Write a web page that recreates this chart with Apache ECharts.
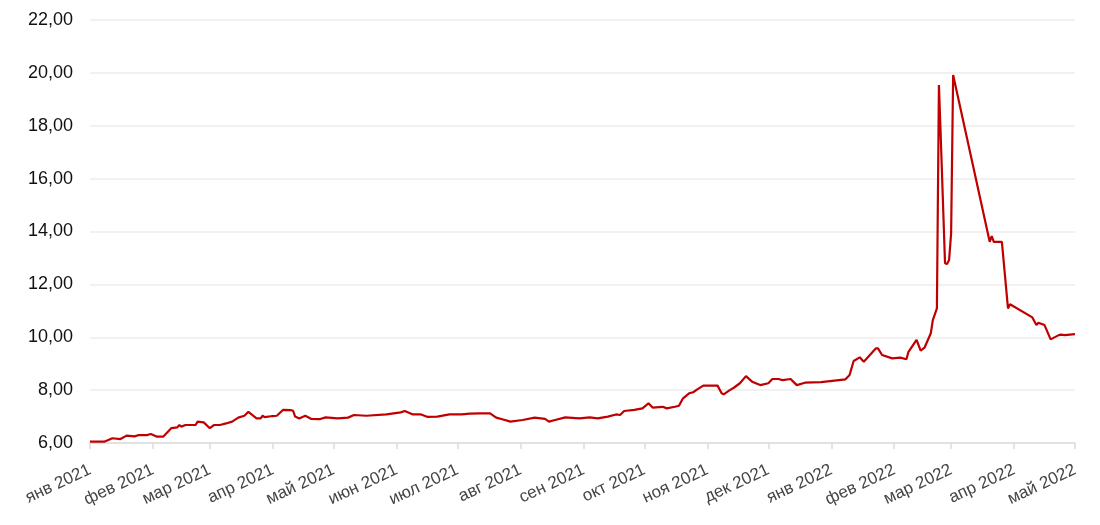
<!DOCTYPE html>
<html>
<head>
<meta charset="utf-8">
<script src="https://cdn.jsdelivr.net/npm/echarts@6/dist/echarts.min.js"></script>
<style>
html,body{margin:0;padding:0;background:#fff;}
#chart{width:1100px;height:525px;}
</style>
</head>
<body>
<div id="chart"></div>
<script>
// ---- data ----
const dates = [
 '2021-01-01','2021-01-08','2021-01-12','2021-01-16','2021-01-19','2021-01-23','2021-01-25','2021-01-29','2021-01-31',
 '2021-02-03','2021-02-06','2021-02-10','2021-02-13','2021-02-14','2021-02-15','2021-02-17','2021-02-22','2021-02-23','2021-02-26',
 '2021-03-01','2021-03-03','2021-03-06','2021-03-09','2021-03-12','2021-03-15','2021-03-18','2021-03-20','2021-03-24','2021-03-26','2021-03-27','2021-03-28',
 '2021-04-01','2021-04-03','2021-04-06','2021-04-10','2021-04-11','2021-04-12','2021-04-14','2021-04-17','2021-04-20','2021-04-24','2021-04-27',
 '2021-05-03','2021-05-08','2021-05-11','2021-05-17','2021-05-27',
 '2021-06-03','2021-06-05','2021-06-09','2021-06-13','2021-06-16','2021-06-21','2021-06-27',
 '2021-07-03','2021-07-07','2021-07-12','2021-07-17','2021-07-20','2021-07-23','2021-07-27',
 '2021-08-02','2021-08-08','2021-08-13','2021-08-15','2021-08-18','2021-08-23','2021-08-30',
 '2021-09-04','2021-09-08','2021-09-13','2021-09-17','2021-09-19','2021-09-21','2021-09-26','2021-09-30',
 '2021-10-03','2021-10-05','2021-10-10','2021-10-12','2021-10-16','2021-10-18','2021-10-20','2021-10-23','2021-10-25','2021-10-27','2021-10-30',
 '2021-11-06','2021-11-08','2021-11-09','2021-11-12','2021-11-14','2021-11-17','2021-11-20','2021-11-23','2021-11-27',
 '2021-12-01','2021-12-03','2021-12-06','2021-12-08','2021-12-12','2021-12-13','2021-12-15','2021-12-19','2021-12-27',
 '2022-01-08','2022-01-10','2022-01-12','2022-01-15','2022-01-17','2022-01-19','2022-01-23','2022-01-24','2022-01-26','2022-01-31',
 '2022-02-04','2022-02-07','2022-02-08','2022-02-12','2022-02-14','2022-02-16','2022-02-19','2022-02-20','2022-02-22','2022-02-23','2022-02-24','2022-02-26','2022-02-27','2022-02-28',
 '2022-03-01','2022-03-02','2022-03-20','2022-03-21','2022-03-22','2022-03-26','2022-03-29','2022-03-30',
 '2022-04-10','2022-04-12','2022-04-13','2022-04-16','2022-04-19','2022-04-23','2022-04-24','2022-04-26','2022-05-01'
];
const values = [
 6.05,6.05,6.18,6.15,6.28,6.25,6.30,6.30,6.34,
 6.24,6.24,6.56,6.59,6.68,6.62,6.68,6.68,6.81,6.78,
 6.56,6.68,6.68,6.74,6.81,6.96,7.03,7.18,6.93,6.93,7.03,6.98,
 7.02,7.03,7.25,7.24,7.22,7.00,6.93,7.03,6.91,6.90,6.97,
 6.93,6.96,7.06,7.03,7.08,
 7.16,7.21,7.08,7.08,6.99,7.00,7.08,
 7.08,7.11,7.12,7.12,6.96,6.90,6.81,
 6.87,6.96,6.91,6.81,6.87,6.97,6.93,
 6.97,6.93,7.00,7.08,7.06,7.21,7.25,7.31,
 7.50,7.34,7.37,7.31,7.37,7.41,7.69,7.88,7.92,8.03,8.17,
 8.17,7.88,7.84,8.00,8.09,8.26,8.53,8.32,8.19,
 8.26,8.42,8.42,8.38,8.42,8.34,8.19,8.28,8.30,
 8.41,8.57,9.10,9.24,9.07,9.24,9.58,9.58,9.33,9.20,
 9.23,9.17,9.45,9.90,9.49,9.62,10.15,10.65,11.09,19.54,17.35,12.80,12.77,12.92,
 13.93,19.92,13.61,13.83,13.61,13.61,11.09,11.25,
 10.75,10.46,10.55,10.46,9.92,10.08,10.10,10.08,10.12
];
const monthNames = ['янв','фев','мар','апр','май','июн','июл','авг','сен','окт','ноя','дек'];
const tickMonths = [
 '2021-01','2021-02','2021-03','2021-04','2021-05','2021-06','2021-07','2021-08','2021-09',
 '2021-10','2021-11','2021-12','2022-01','2022-02','2022-03','2022-04','2022-05'
];
const yTicks = [6,8,10,12,14,16,18,20,22];

// ---- build ----
function localTs(s){ const p=s.split('-').map(Number); return new Date(p[0],p[1]-1,p[2]||1).getTime(); }
const seriesData = dates.map((d,i)=>[localTs(d), values[i]]);
const tickValues = tickMonths.map(m=>localTs(m));

const chart = echarts.init(document.getElementById('chart'), null, {renderer:'canvas'});
chart.setOption({
  animation:false,
  backgroundColor:'#fff',
  grid:{left:90,right:25,top:20,bottom:82,containLabel:false,outerBoundsMode:'none'},
  xAxis:{
    type:'value',
    min:tickValues[0],
    max:tickValues[tickValues.length-1],
    axisLine:{show:true,lineStyle:{color:'#dcdcdc',width:1.5}},
    axisTick:{show:true,customValues:tickValues,length:6,lineStyle:{color:'#dcdcdc',width:1.5}},
    splitLine:{show:false},
    minorTick:{show:false},
    axisLabel:{
      customValues:tickValues,
      rotate:25,
      margin:26,
      hideOverlap:false,
      showMinLabel:true,
      showMaxLabel:true,
      color:'#444',
      fontSize:17,
      fontFamily:'Liberation Sans, Arial, sans-serif',
      formatter:function(v){ const d=new Date(v); return monthNames[d.getMonth()]+' '+d.getFullYear(); }
    }
  },
  yAxis:{
    type:'value',
    min:yTicks[0],
    max:yTicks[yTicks.length-1],
    interval:2,
    axisLine:{show:false},
    axisTick:{show:false},
    splitLine:{show:true,lineStyle:{color:'#ececec',width:1.5}},
    axisLabel:{
      color:'#111',
      fontSize:18,
      margin:17,
      fontFamily:'Liberation Sans, Arial, sans-serif',
      formatter:function(v){ return v.toFixed(2).replace('.',','); }
    }
  },
  series:[{
    type:'line',
    data:seriesData,
    showSymbol:false,
    symbol:'none',
    lineStyle:{color:'#c00000',width:2.2},
    itemStyle:{color:'#c00000'}
  }]
});
</script>
</body>
</html>
